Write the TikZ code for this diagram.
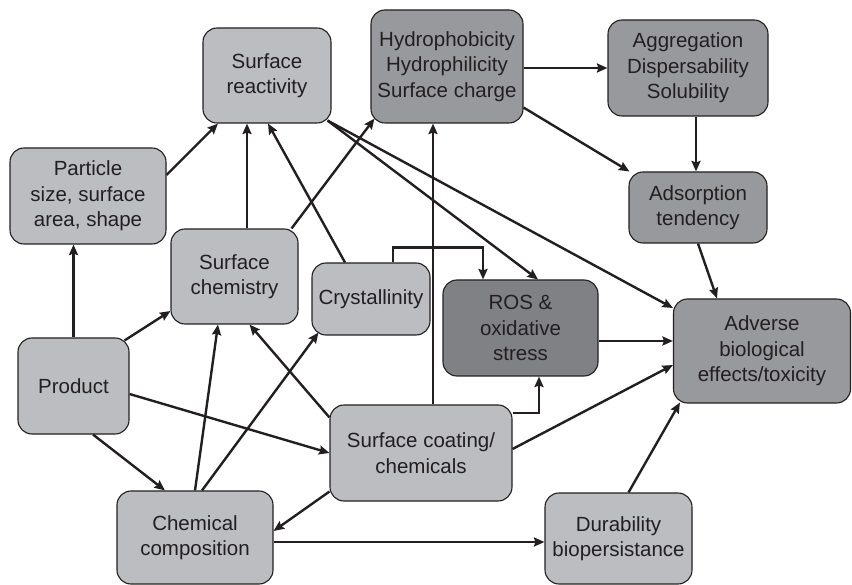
\documentclass[tikz,border=0pt]{standalone}
\usepackage{fontspec}
\setmainfont{Liberation Sans}
\usetikzlibrary{arrows.meta,calc}
\definecolor{ink}{HTML}{231F20}
\definecolor{lightbox}{HTML}{BBBDC0}
\definecolor{midbox}{HTML}{98999C}
\definecolor{darkbox}{HTML}{808184}
\begin{document}
\begin{tikzpicture}[x=1pt,y=-1pt,
  box/.style={draw=ink, line width=1.1pt, rounded corners=14pt, align=center,
    text=ink, font=\fontsize{20.5}{25.5}\selectfont, inner sep=0pt},
  lightnode/.style={box, fill=lightbox},
  midnode/.style={box, fill=midbox},
  darknode/.style={box, fill=darkbox},
  link/.style={draw=ink, line width=2.4pt,
    -{Stealth[length=10.5pt,width=9pt,inset=1.5pt]}},
]
\useasboundingbox (0,0) rectangle (852,585);

% boxes
\node[lightnode, minimum width=128pt, minimum height=95pt] (react) at (267,75.5) {Surface\\reactivity};
\node[midnode, minimum width=152pt, minimum height=113pt] (hydro) at (447,66.5) {Hydrophobicity\\Hydrophilicity\\Surface charge};
\node[midnode, minimum width=160pt, minimum height=96pt] (aggr) at (688,68) {Aggregation\\Dispersability\\Solubility};
\node[lightnode, minimum width=156pt, minimum height=96pt] (part) at (88,196) {Particle\\size, surface\\area, shape};
\node[lightnode, minimum width=127pt, minimum height=95pt] (chem) at (234.5,276.5) {Surface\\chemistry};
\node[lightnode, minimum width=118pt, minimum height=72pt] (cryst) at (371,299) {Crystallinity};
\node[darknode, minimum width=155pt, minimum height=96pt] (ros) at (520.5,328) {ROS \&\\oxidative\\stress};
\node[midnode, minimum width=138pt, minimum height=71pt] (adsorb) at (698,207.5) {Adsorption\\tendency};
\node[midnode, minimum width=177pt, minimum height=104pt] (adverse) at (762,351) {Adverse\\biological\\effects/toxicity};
\node[lightnode, minimum width=111pt, minimum height=96pt] (product) at (73.5,386) {Product};
\node[lightnode, minimum width=182pt, minimum height=96pt] (coat) at (421,453) {Surface coating/\\chemicals};
\node[lightnode, minimum width=156pt, minimum height=93pt] (comp) at (195,537.5) {Chemical\\composition};
\node[lightnode, minimum width=147pt, minimum height=91pt] (dur) at (618.5,538.5) {Durability\\biopersistance};

% connectors
\draw[link] ([yshift=21pt]part.east) -- ([xshift=-49pt]react.south);
\draw[link] ([xshift=12.5pt]chem.north) -- ([xshift=-20pt]react.south);
\draw[link] ([xshift=-26pt]cryst.north) -- ([xshift=1pt]react.south);
\draw[link] ([xshift=-7pt]chem.north east) -- ([xshift=4pt,yshift=5pt]hydro.south west);
\draw[link] ([xshift=-4pt,yshift=3pt]react.south east) -- ([xshift=17.5pt]ros.north);
\draw[link] ([xshift=-4pt,yshift=3pt]react.south east) -- ([yshift=43pt]adverse.west);
\draw[link] (hydro.east |- aggr.west) -- (aggr.west);
\draw[link] ([yshift=16pt]hydro.south east) -- ([xshift=1pt]adsorb.north west);
\draw[link] ([xshift=8pt]aggr.south) -- ([xshift=8pt]aggr.south |- adsorb.north);
\draw[link] (adsorb.south) -- ([xshift=-45pt]adverse.north);
\draw[link] ([yshift=-13pt]ros.east) -- ([yshift=-13pt]ros.east -| adverse.west);
\draw[link] ([yshift=4pt]coat.east) -- ([yshift=-14pt]adverse.west);
\draw[link] ([xshift=10pt]dur.north) -- ([xshift=7pt,yshift=1pt]adverse.south west);
\draw[link] ([xshift=22pt]cryst.north) -- ++(0,15pt) -| ([xshift=-37.5pt]ros.north);
\draw[link] ([xshift=12pt]coat.north) -- ([xshift=12pt]coat.north |- hydro.south);
\draw[link] ([yshift=40pt]coat.east) -| ([xshift=18.5pt]ros.south);
\draw[link] ([yshift=-13pt]coat.north west) -- ([xshift=15pt]chem.south);
\draw[link] ([yshift=10pt]coat.south west) -- ([yshift=6.5pt]comp.east);
\draw[link] (product.north) -- (product.north |- part.south);
\draw[link] ([xshift=-5pt,yshift=-3pt]product.north east) -- ([yshift=-34.5pt]chem.west);
\draw[link] ([yshift=-8pt]product.east) -- (coat.west);
\draw[link] ([xshift=19.5pt]product.south) -- ([xshift=-30pt]comp.north);
\draw[link] (comp.north) -- ([xshift=-16.5pt]chem.south);
\draw[link] ([xshift=7pt]comp.north) -- ([xshift=7pt,yshift=3pt]cryst.south west);
\draw[link] ([yshift=-4.5pt]comp.east) -- ([yshift=-4.5pt]comp.east -| dur.west);
\end{tikzpicture}
\end{document}
